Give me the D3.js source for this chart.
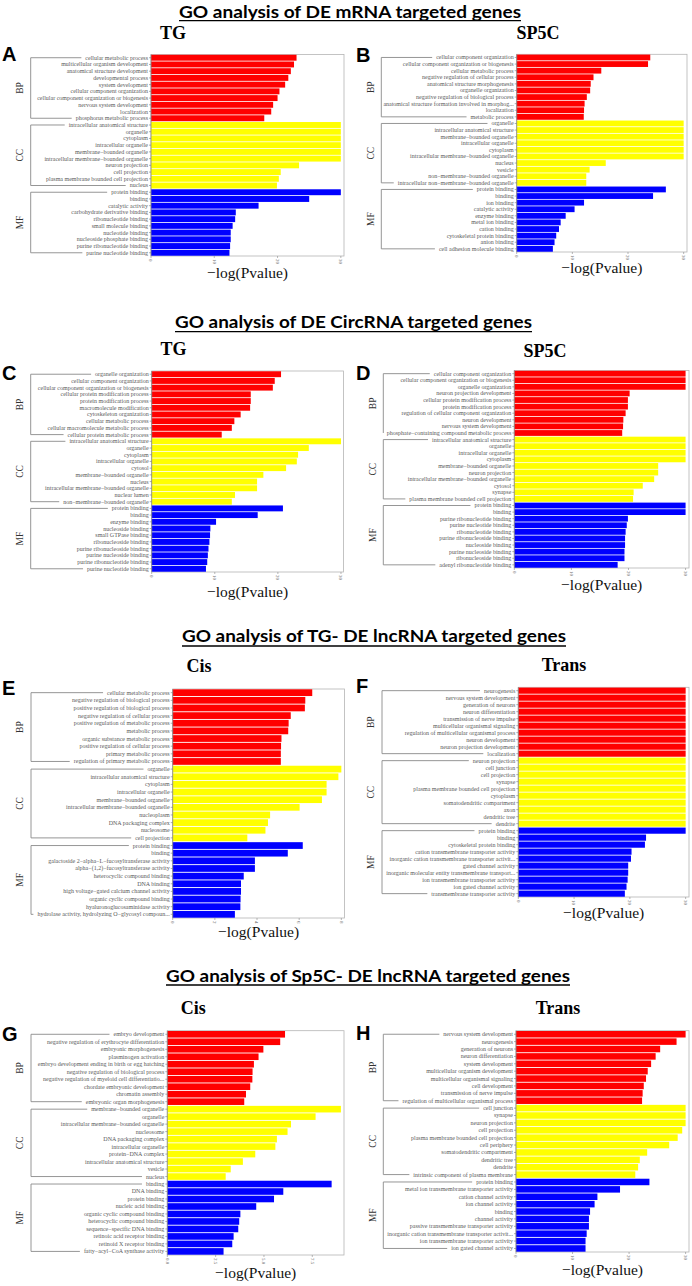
<!DOCTYPE html>
<html>
<head>
<meta charset="utf-8">
<script src="https://cdn.jsdelivr.net/npm/d3@7"></script>
<style>
  body { margin: 0; background: #fff; }
</style>
</head>
<body>
<script>
// ---- data ----
const groups = ["BP", "CC", "MF"];

const termsA = [
  "cellular metabolic process", "multicellular organism development", "anatomical structure development",
  "developmental process", "system development", "cellular component organization",
  "cellular component organization or biogenesis", "nervous system development", "localization",
  "phosphorus metabolic process",
  "intracellular anatomical structure", "organelle", "cytoplasm", "intracellular organelle",
  "membrane−bounded organelle", "intracellular membrane−bounded organelle", "neuron projection",
  "cell projection", "plasma membrane bounded cell projection", "nucleus",
  "protein binding", "binding", "catalytic activity", "carbohydrate derivative binding",
  "ribonucleotide binding", "small molecule binding", "nucleotide binding",
  "nucleoside phosphate binding", "purine ribonucleotide binding", "purine nucleotide binding"];
const valuesA = [23.0, 22.6, 22.1, 21.7, 21.2, 20.3, 20.0, 19.3, 19.0, 17.9,
  30, 30, 30, 30, 30, 30, 23.4, 20.5, 20.2, 19.9,
  30, 25.0, 17.0, 13.4, 13.3, 12.9, 12.6, 12.6, 12.5, 12.4];

const termsB = [
  "cellular component organization", "cellular component organization or biogenesis",
  "cellular metabolic process", "negative regulation of cellular process",
  "anatomical structure morphogenesis", "organelle organization",
  "negative regulation of biological process", "anatomical structure formation involved in morphog...",
  "localization", "metabolic process",
  "organelle", "intracellular anatomical structure", "membrane−bounded organelle",
  "intracellular organelle", "cytoplasm", "intracellular membrane−bounded organelle", "nucleus",
  "vesicle", "non−membrane−bounded organelle", "intracellular non−membrane−bounded organelle",
  "protein binding", "binding", "ion binding", "catalytic activity", "enzyme binding",
  "metal ion binding", "cation binding", "cytoskeletal protein binding", "anion binding",
  "cell adhesion molecule binding"];
const valuesB = [24.0, 23.6, 15.2, 13.8, 13.3, 13.2, 12.6, 12.2, 12.1, 12.05,
  30, 30, 30, 30, 30, 30, 16.0, 13.1, 12.5, 12.5,
  26.8, 24.5, 12.1, 10.4, 8.8, 7.9, 7.6, 7.1, 6.8, 6.5];

const termsC = [
  "organelle organization", "cellular component organization",
  "cellular component organization or biogenesis", "cellular protein modification process",
  "protein modification process", "macromolecule modification", "cytoskeleton organization",
  "cellular metabolic process", "cellular macromolecule metabolic process",
  "cellular protein metabolic process",
  "intracellular anatomical structure", "organelle", "cytoplasm", "intracellular organelle",
  "cytosol", "membrane−bounded organelle", "nucleus", "intracellular membrane−bounded organelle",
  "nuclear lumen", "non−membrane−bounded organelle",
  "protein binding", "binding", "enzyme binding", "nucleoside binding", "small GTPase binding",
  "ribonucleoside binding", "purine ribonucleoside binding", "purine nucleoside binding",
  "purine ribonucleotide binding", "purine nucleotide binding"];
const valuesC = [20.5, 19.5, 19.2, 15.7, 15.7, 15.6, 14.1, 13.1, 12.7, 11.1,
  30, 24.9, 23.2, 23.0, 21.3, 17.7, 16.7, 16.7, 13.2, 12.7,
  20.8, 16.8, 10.2, 9.3, 9.25, 9.15, 9.0, 8.9, 8.8, 8.6];

const termsD = [
  "cellular component organization", "cellular component organization or biogenesis",
  "organelle organization", "neuron projection development", "cellular protein modification process",
  "protein modification process", "regulation of cellular component organization",
  "neuron development", "nervous system development",
  "phosphate−containing compound metabolic process",
  "intracellular anatomical structure", "organelle", "intracellular organelle", "cytoplasm",
  "membrane−bounded organelle", "neuron projection", "intracellular membrane−bounded organelle",
  "cytosol", "synapse", "plasma membrane bounded cell projection",
  "protein binding", "binding", "purine ribonucleotide binding", "purine nucleotide binding",
  "ribonucleotide binding", "purine ribonucleoside binding", "nucleoside binding",
  "purine nucleoside binding", "ribonucleoside binding", "adenyl ribonucleotide binding"];
const valuesD = [30, 30, 30, 20.2, 19.9, 19.9, 19.5, 19.1, 19.05, 18.9,
  30, 30, 30, 30, 25.2, 25.2, 24.5, 22.5, 20.9, 20.8,
  30, 30, 19.9, 19.7, 19.5, 19.4, 19.4, 19.3, 19.3, 18.1];

const termsE = [
  "cellular metabolic process", "negative regulation of biological process",
  "positive regulation of biological process", "negative regulation of cellular process",
  "positive regulation of metabolic process", "metabolic process",
  "organic substance metabolic process", "positive regulation of cellular process",
  "primary metabolic process", "regulation of primary metabolic process",
  "organelle", "intracellular anatomical structure", "cytoplasm", "intracellular organelle",
  "membrane−bounded organelle", "intracellular membrane−bounded organelle", "nucleoplasm",
  "DNA packaging complex", "nucleosome", "cell projection",
  "protein binding", "binding", "galactoside 2−alpha−L−fucosyltransferase activity",
  "alpha−(1,2)−fucosyltransferase activity", "heterocyclic compound binding", "DNA binding",
  "high voltage−gated calcium channel activity", "organic cyclic compound binding",
  "hyaluronoglucosaminidase activity", "hydrolase activity, hydrolyzing O−glycosyl compoun..."];
const valuesE = [6.62, 6.29, 6.27, 5.6, 5.5, 5.48, 5.16, 5.14, 5.13, 5.13,
  8.0, 7.86, 7.3, 7.3, 7.08, 6.02, 4.62, 4.52, 4.4, 3.54,
  6.17, 5.46, 3.9, 3.9, 3.37, 3.24, 3.24, 3.22, 3.21, 2.95];

const termsF = [
  "neurogenesis", "nervous system development", "generation of neurons", "neuron differentiation",
  "transmission of nerve impulse", "multicellular organismal signaling",
  "regulation of multicellular organismal process", "neuron development",
  "neuron projection development", "localization",
  "neuron projection", "cell junction", "cell projection", "synapse",
  "plasma membrane bounded cell projection", "cytoplasm", "somatodendritic compartment", "axon",
  "dendritic tree", "dendrite",
  "protein binding", "binding", "cytoskeletal protein binding",
  "cation transmembrane transporter activity", "inorganic cation transmembrane transporter activit...",
  "gated channel activity", "inorganic molecular entity transmembrane transport...",
  "ion transmembrane transporter activity", "ion gated channel activity",
  "transmembrane transporter activity"];
const valuesF = [30, 30, 30, 30, 30, 30, 30, 30, 30, 30,
  30, 30, 30, 30, 30, 30, 30, 30, 30, 30,
  30, 22.9, 22.7, 20.3, 20.2, 19.7, 19.7, 19.6, 19.4, 19.1];

const termsG = [
  "embryo development", "negative regulation of erythrocyte differentiation",
  "embryonic morphogenesis", "plasminogen activation",
  "embryo development ending in birth or egg hatching", "negative regulation of biological process",
  "negative regulation of myeloid cell differentiatio...", "chordate embryonic development",
  "chromatin assembly", "embryonic organ morphogenesis",
  "membrane−bounded organelle", "organelle", "intracellular membrane−bounded organelle",
  "nucleosome", "DNA packaging complex", "intracellular organelle", "protein−DNA complex",
  "intracellular anatomical structure", "vesicle", "nucleus",
  "binding", "DNA binding", "protein binding", "nucleic acid binding",
  "organic cyclic compound binding", "heterocyclic compound binding",
  "sequence−specific DNA binding", "retinoic acid receptor binding", "retinoid X receptor binding",
  "fatty−acyl−CoA synthase activity"];
const valuesG = [6.09, 5.84, 4.97, 4.72, 4.48, 4.41, 4.40, 4.29, 4.07, 3.98,
  8.98, 7.67, 6.40, 6.22, 5.67, 5.59, 4.55, 3.91, 3.28, 3.02,
  8.5, 6.0, 5.52, 4.6, 3.78, 3.72, 3.67, 3.43, 3.36, 2.91];

const termsH = [
  "nervous system development", "neurogenesis", "generation of neurons", "neuron differentiation",
  "system development", "multicellular organism development", "multicellular organismal signaling",
  "cell development", "transmission of nerve impulse",
  "regulation of multicellular organismal process",
  "cell junction", "synapse", "neuron projection", "cell projection",
  "plasma membrane bounded cell projection", "cell periphery", "somatodendritic compartment",
  "dendritic tree", "dendrite", "intrinsic component of plasma membrane",
  "protein binding", "metal ion transmembrane transporter activity", "cation channel activity",
  "ion channel activity", "binding", "channel activity", "passive transmembrane transporter activity",
  "inorganic cation transmembrane transporter activit...", "ion transmembrane transporter activity",
  "ion gated channel activity"];
const valuesH = [30, 28.4, 25.5, 24.7, 23.9, 23.3, 23.0, 22.6, 22.4, 22.3,
  30, 30, 30, 29.4, 28.6, 27.1, 23.2, 21.9, 21.6, 21.1,
  23.6, 18.4, 14.4, 13.9, 13.1, 12.9, 12.9, 12.5, 12.3, 12.3];

const ticks30 = [0, 10, 20, 30];
const ticks8 = [0, 2, 4, 6, 8];
const ticksG = [0, 2.5, 5, 7.5];
const tickLabelsG = ["0.0", "2.5", "5.0", "7.5"];

const sectionTitles = [
  "GO analysis of DE mRNA targeted genes",
  "GO analysis of DE CircRNA targeted genes",
  "GO analysis of TG- DE lncRNA targeted genes",
  "GO analysis of Sp5C- DE lncRNA targeted genes"];
const subTitles = ["TG", "SP5C", "TG", "SP5C", "Cis", "Trans", "Cis", "Trans"];
const panelLetters = ["A", "B", "C", "D", "E", "F", "G", "H"];

// ---- layout (pixels) ----
const SERIF = "'Liberation Serif', 'Times New Roman', serif";

const titleLayout = [
  {x0: 179, x1: 521, base: 17.5, line: 20.7},
  {x0: 175, x1: 532, base: 327.7, line: 331.7},
  {x0: 182, x1: 566, base: 642, line: 646},
  {x0: 166, x1: 570, base: 981.7, line: 985}];

const panelLayout = [
  {x0: 151, xR: 344, top: 54.5, bottom: 256, dmax: 30.5, brX: 30.7, subX: 173, subY: 39, letX: 2, letY: 61, axY: 278},
  {x0: 516.7, xR: 687, top: 54.3, bottom: 252, dmax: 30.6, brX: 381.3, subX: 538, subY: 39, letX: 356, letY: 61.5, axY: 273},
  {x0: 151.7, xR: 343.5, top: 371, bottom: 572, dmax: 30.4, brX: 30.7, subX: 173.5, subY: 355, letX: 2, letY: 380, axY: 597},
  {x0: 514.3, xR: 689, top: 370.5, bottom: 568, dmax: 30.6, brX: 383.3, subX: 545, subY: 356.7, letX: 356, letY: 380, axY: 590},
  {x0: 172.7, xR: 344.5, top: 689, bottom: 918, dmax: 8.15, brX: 31, subX: 199, subY: 671.7, letX: 2, letY: 695, axY: 937},
  {x0: 518.3, xR: 689, top: 687.3, bottom: 897, dmax: 30.6, brX: 382, subX: 564, subY: 670.7, letX: 356, letY: 692.7, axY: 918},
  {x0: 167.3, xR: 344, top: 1030.7, bottom: 1255, dmax: 9.14, brX: 31, subX: 193.3, subY: 1014.3, letX: 2, letY: 1041, axY: 1278},
  {x0: 516, xR: 689, top: 1030.7, bottom: 1252, dmax: 30.6, brX: 383.3, subX: 558, subY: 1014.3, letX: 356, letY: 1040, axY: 1275}];

const panelData = [
  {terms: termsA, values: valuesA, ticks: ticks30},
  {terms: termsB, values: valuesB, ticks: ticks30},
  {terms: termsC, values: valuesC, ticks: ticks30},
  {terms: termsD, values: valuesD, ticks: ticks30},
  {terms: termsE, values: valuesE, ticks: ticks8},
  {terms: termsF, values: valuesF, ticks: ticks30},
  {terms: termsG, values: valuesG, ticks: ticksG, tickLabels: tickLabelsG},
  {terms: termsH, values: valuesH, ticks: ticks30}];

const groupColor = {BP: "#ff0000", CC: "#ffff00", MF: "#0000ff"};

const svg = d3.select("body").append("svg")
    .attr("width", 692)
    .attr("height", 1286);

// section titles
titleLayout.forEach((t, i) => {
  svg.append("text")
    .attr("x", t.x0)
    .attr("y", t.base)
    .attr("textLength", t.x1 - t.x0)
    .attr("lengthAdjust", "spacingAndGlyphs")
    .style("font-family", "Lato, 'Open Sans', sans-serif")
    .style("font-weight", "bold")
    .style("font-size", "17px")
    .attr("fill", "#000")
    .text(sectionTitles[i]);
  svg.append("line")
    .attr("x1", t.x0).attr("x2", t.x1)
    .attr("y1", t.line).attr("y2", t.line)
    .attr("stroke", "#000").attr("stroke-width", 1.3);
});

function drawPanel(p, L, idx) {
  const g = svg.append("g").style("font-family", SERIF);
  const n = p.terms.length;

  const x = d3.scaleLinear().domain([0, L.dmax]).range([L.x0, L.xR]);
  const y = d3.scaleBand()
      .domain(d3.range(n))
      .range([L.top, L.bottom])
      .paddingInner(0.12)
      .paddingOuter(0.04);

  // plot frame
  g.append("rect")
    .attr("x", L.x0).attr("y", L.top)
    .attr("width", L.xR - L.x0).attr("height", L.bottom - L.top)
    .attr("fill", "none").attr("stroke", "#b5b5b5").attr("stroke-width", 0.8);

  // bars
  g.selectAll("rect.bar")
    .data(p.values)
    .enter().append("rect")
    .attr("class", "bar")
    .attr("x", x(0))
    .attr("y", (d, i) => y(i))
    .attr("width", d => x(d) - x(0))
    .attr("height", y.bandwidth())
    .attr("fill", (d, i) => groupColor[groups[Math.floor(i / 10)]]);

  // left axis line
  g.append("line")
    .attr("x1", L.x0).attr("x2", L.x0)
    .attr("y1", L.top).attr("y2", L.bottom)
    .attr("stroke", "#8a8a8a").attr("stroke-width", 0.8);

  // term labels + tick marks
  const labels = g.selectAll("text.term")
    .data(p.terms)
    .enter().append("text")
    .attr("class", "term")
    .attr("x", L.x0 - 3)
    .attr("y", (d, i) => y(i) + y.bandwidth() / 2)
    .attr("dy", "0.33em")
    .attr("text-anchor", "end")
    .style("font-family", SERIF)
    .style("font-size", "6px")
    .attr("fill", "#5a5a5a")
    .text(d => d);

  g.selectAll("line.ytick")
    .data(p.terms)
    .enter().append("line")
    .attr("x1", L.x0 - 2).attr("x2", L.x0)
    .attr("y1", (d, i) => y(i) + y.bandwidth() / 2)
    .attr("y2", (d, i) => y(i) + y.bandwidth() / 2)
    .attr("stroke", "#777").attr("stroke-width", 0.6);

  const widths = labels.nodes().map(nd => nd.getComputedTextLength());

  // group brackets
  groups.forEach((grp, gi) => {
    const first = gi * 10, last = gi * 10 + 9;
    const yf = y(first) + y.bandwidth() / 2;
    const yl = y(last) + y.bandwidth() / 2;
    const endF = L.x0 - 3 - widths[first] - 4;
    const endL = L.x0 - 3 - widths[last] - 4;
    const path = d3.path();
    path.moveTo(Math.max(endF, L.brX), yf);
    path.lineTo(L.brX, yf);
    path.lineTo(L.brX, yl);
    path.lineTo(Math.max(endL, L.brX), yl);
    g.append("path")
      .attr("d", path.toString())
      .attr("fill", "none")
      .attr("stroke", "#8a8a8a")
      .attr("stroke-width", 0.9);

    const cy = (yf + yl) / 2;
    g.append("text")
      .attr("transform", `translate(${L.brX - 11},${cy}) rotate(-90)`)
      .attr("text-anchor", "middle")
      .attr("dy", "0.35em")
      .style("font-family", SERIF)
      .style("font-size", "9.5px")
      .attr("fill", "#333")
      .text(grp);
  });

  // x axis ticks
  const tickLab = p.tickLabels || p.ticks.map(String);
  p.ticks.forEach((t, ti) => {
    g.append("line")
      .attr("x1", x(t)).attr("x2", x(t))
      .attr("y1", L.bottom).attr("y2", L.bottom + 2)
      .attr("stroke", "#888").attr("stroke-width", 0.6);
    g.append("text")
      .attr("transform", `translate(${x(t)},${L.bottom + 3}) rotate(90)`)
      .attr("text-anchor", "start")
      .attr("dy", "0.35em")
      .style("font-family", SERIF)
      .style("font-size", "5px")
      .attr("fill", "#666")
      .text(tickLab[ti]);
  });

  // axis title
  g.append("text")
    .attr("x", (L.x0 + L.xR) / 2)
    .attr("y", L.axY)
    .attr("text-anchor", "middle")
    .style("font-family", SERIF)
    .style("font-size", "15.5px")
    .attr("fill", "#111")
    .text("−log(Pvalue)");

  // subtitle
  g.append("text")
    .attr("x", L.subX)
    .attr("y", L.subY)
    .attr("text-anchor", "middle")
    .style("font-family", SERIF)
    .style("font-size", "18px")
    .style("font-weight", "bold")
    .attr("fill", "#000")
    .text(subTitles[idx]);

  // panel letter
  g.append("text")
    .attr("x", L.letX)
    .attr("y", L.letY)
    .style("font-family", "'Liberation Sans', Arial, sans-serif")
    .style("font-size", "20px")
    .style("font-weight", "bold")
    .attr("fill", "#000")
    .text(panelLetters[idx]);
}

panelData.forEach((p, i) => drawPanel(p, panelLayout[i], i));
</script>
</body>
</html>
